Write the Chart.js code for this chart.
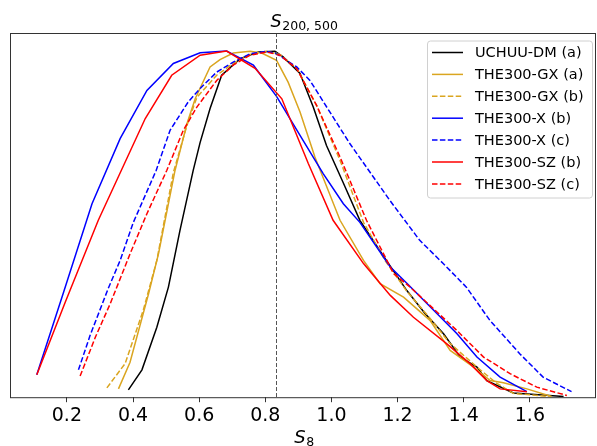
<!DOCTYPE html>
<html>
<head>
<meta charset="utf-8">
<script src="https://cdn.jsdelivr.net/npm/chart.js@4.4.1/dist/chart.umd.min.js"></script>
<style>
    html, body { margin: 0; padding: 0; background: #fff; }
    canvas { display: block; }
</style>
</head>
<body>
<canvas id="S8Chart" width="597" height="446"></canvas>
<script>
// x axis ticks and the S_200,500 marker
const xTicks = [0.2, 0.4, 0.6, 0.8, 1.0, 1.2, 1.4, 1.6];
const s200500 = 0.831;

// UCHUU-DM (a)
const uchuuS = [0.386, 0.427, 0.472, 0.507, 0.542, 0.582, 0.603, 0.633, 0.668, 0.724, 0.779, 0.829, 0.854, 0.905, 0.945, 0.985, 1.035, 1.086, 1.162, 1.228, 1.283, 1.339, 1.389, 1.440, 1.470, 1.550, 1.702];
const uchuuP = [0.021, 0.079, 0.202, 0.318, 0.482, 0.655, 0.736, 0.834, 0.930, 0.978, 0.997, 0.999, 0.983, 0.935, 0.838, 0.727, 0.621, 0.511, 0.401, 0.308, 0.242, 0.183, 0.116, 0.087, 0.048, 0.012, 0.002];

// THE300-GX (a)
const gxaS = [0.356, 0.391, 0.447, 0.477, 0.527, 0.563, 0.588, 0.633, 0.663, 0.703, 0.754, 0.789, 0.834, 0.869, 0.905, 0.950, 1.026, 1.097, 1.147, 1.218, 1.298, 1.359, 1.430, 1.480, 1.520, 1.591, 1.666];
const gxaP = [0.024, 0.101, 0.299, 0.414, 0.655, 0.790, 0.862, 0.954, 0.975, 0.994, 0.999, 0.994, 0.973, 0.910, 0.824, 0.694, 0.511, 0.395, 0.328, 0.289, 0.222, 0.135, 0.087, 0.048, 0.042, 0.024, 0.002];

// THE300-GX (b)
const gxbS = [0.321, 0.376, 0.431, 0.472, 0.522, 0.563, 0.593, 0.653, 0.703, 0.754, 0.804, 0.844, 0.895, 0.955, 1.026, 1.097, 1.162, 1.228, 1.298, 1.358, 1.440, 1.500, 1.550, 1.660];
const gxbP = [0.027, 0.097, 0.251, 0.395, 0.649, 0.785, 0.866, 0.930, 0.964, 0.990, 0.999, 0.990, 0.950, 0.843, 0.684, 0.505, 0.395, 0.306, 0.228, 0.156, 0.087, 0.040, 0.011, 0.002];

// THE300-X (b)
const xbS = [0.109, 0.190, 0.276, 0.361, 0.442, 0.522, 0.603, 0.683, 0.764, 0.834, 0.905, 0.975, 1.036, 1.086, 1.178, 1.228, 1.379, 1.440, 1.510, 1.591];
const xbP = [0.065, 0.303, 0.559, 0.747, 0.886, 0.964, 0.995, 1.000, 0.959, 0.869, 0.756, 0.646, 0.559, 0.505, 0.376, 0.329, 0.184, 0.116, 0.058, 0.016];

// THE300-X (c)
const xcS = [0.235, 0.270, 0.325, 0.361, 0.401, 0.470, 0.512, 0.567, 0.603, 0.653, 0.703, 0.754, 0.804, 0.834, 0.895, 0.935, 0.995, 1.056, 1.177, 1.267, 1.338, 1.408, 1.479, 1.570, 1.640, 1.726];
const xcP = [0.079, 0.178, 0.314, 0.395, 0.505, 0.655, 0.771, 0.853, 0.892, 0.939, 0.968, 0.992, 0.999, 0.992, 0.954, 0.915, 0.824, 0.732, 0.568, 0.453, 0.386, 0.318, 0.222, 0.125, 0.058, 0.016];

// THE300-SZ (b)
const szbS = [0.109, 0.195, 0.295, 0.437, 0.517, 0.603, 0.683, 0.769, 0.850, 0.930, 1.005, 1.097, 1.178, 1.248, 1.349, 1.419, 1.470, 1.510, 1.591];
const szbP = [0.065, 0.274, 0.511, 0.805, 0.930, 0.988, 1.000, 0.950, 0.862, 0.675, 0.511, 0.386, 0.294, 0.231, 0.154, 0.097, 0.048, 0.024, 0.016];

// THE300-SZ (c)
const szcS = [0.240, 0.286, 0.331, 0.391, 0.442, 0.502, 0.552, 0.593, 0.653, 0.703, 0.754, 0.804, 0.844, 0.895, 0.955, 1.026, 1.106, 1.188, 1.238, 1.379, 1.460, 1.540, 1.621, 1.712];
const szcP = [0.061, 0.173, 0.270, 0.414, 0.530, 0.655, 0.771, 0.838, 0.915, 0.959, 0.988, 0.997, 0.988, 0.949, 0.843, 0.694, 0.511, 0.357, 0.318, 0.193, 0.116, 0.068, 0.029, 0.005];

function pts(xs, ys) {
    return xs.map((x, i) => ({ x: x, y: ys[i] }));
}

function line(label, xs, ys, color, dashed, i) {
    return {
        label: label,
        data: pts(xs, ys),
        borderColor: color,
        borderWidth: 1.5,
        borderDash: dashed ? [5.5, 2.4] : [],
        fill: false,
        pointRadius: 0,
        tension: 0,
        order: 10 - i, // later series on top, like matplotlib
    };
}

const FONT = "'DejaVu Sans', sans-serif";

// subscript text helper (S_xxx)
function mathLabel(ctx, cx, base, main, sub, size, subSize, drop) {
    ctx.save();
    ctx.fillStyle = "#000";
    ctx.textBaseline = "alphabetic";
    ctx.font = "oblique " + size + "px " + FONT;
    const w1 = ctx.measureText(main).width;
    ctx.font = subSize + "px " + FONT;
    const w2 = ctx.measureText(sub).width;
    const x0 = cx - (w1 + w2) / 2;
    ctx.font = "oblique " + size + "px " + FONT;
    ctx.textAlign = "left";
    ctx.fillText(main, x0, base);
    ctx.font = subSize + "px " + FONT;
    ctx.fillText(sub, x0 + w1 + 0.5, base + drop);
    ctx.restore();
}

const decor = {
    id: "decor",
    beforeDraw(chart) {
        const ctx = chart.ctx;
        ctx.save();
        ctx.fillStyle = "#fff";
        ctx.fillRect(0, 0, chart.width, chart.height);
        ctx.restore();
    },
    afterDatasetsDraw(chart) {
        const ctx = chart.ctx;
        const a = chart.chartArea;
        const xs = chart.scales.x;

        // S_200,500 marker
        const vx = Math.round(xs.getPixelForValue(s200500)) + 0.5;
        ctx.save();
        ctx.strokeStyle = "#555";
        ctx.lineWidth = 1;
        ctx.setLineDash([4, 2]);
        ctx.beginPath();
        ctx.moveTo(vx, a.top);
        ctx.lineTo(vx, a.bottom);
        ctx.stroke();
        ctx.restore();

        // frame
        ctx.save();
        ctx.strokeStyle = "#333";
        ctx.lineWidth = 1;
        ctx.strokeRect(a.left + 0.5, a.top + 0.5, a.right - a.left - 1, a.bottom - a.top);
        ctx.restore();

        // legend
        const lx = 427, ly = 40.5, lw = 165, lh = 157, rowH = 21.9;
        ctx.save();
        ctx.fillStyle = "rgba(255,255,255,0.8)";
        ctx.strokeStyle = "#d0d0d0";
        ctx.lineWidth = 1;
        ctx.beginPath();
        ctx.roundRect(lx + 0.5, ly + 0.5, lw, lh, 3);
        ctx.fill();
        ctx.stroke();
        ctx.font = "14.5px " + FONT;
        ctx.textBaseline = "middle";
        ctx.fillStyle = "#000";
        chart.data.datasets.forEach((ds, i) => {
            const y = ly + 12 + i * rowH;
            ctx.strokeStyle = ds.borderColor;
            ctx.lineWidth = ds.borderWidth;
            ctx.setLineDash(ds.borderDash);
            ctx.beginPath();
            ctx.moveTo(432, y);
            ctx.lineTo(463, y);
            ctx.stroke();
            ctx.setLineDash([]);
            ctx.fillText(ds.label, 475, y + 1);
        });
        ctx.restore();

        // title and axis label
        mathLabel(ctx, 304, 26.5, "S", "200, 500", 17.5, 12.5, 3);
        mathLabel(ctx, 304, 443, "S", "8", 18, 12.5, 3);
    },
};

new Chart(document.getElementById("S8Chart"), {
    type: "line",
    data: {
        datasets: [
            line("UCHUU-DM (a)", uchuuS, uchuuP, "#000000", false, 0),
            line("THE300-GX (a)", gxaS, gxaP, "#DAA520", false, 1),
            line("THE300-GX (b)", gxbS, gxbP, "#DAA520", true, 2),
            line("THE300-X (b)", xbS, xbP, "#0000FF", false, 3),
            line("THE300-X (c)", xcS, xcP, "#0000FF", true, 4),
            line("THE300-SZ (b)", szbS, szbP, "#FF0000", false, 5),
            line("THE300-SZ (c)", szcS, szcP, "#FF0000", true, 6),
        ],
    },
    options: {
        responsive: false,
        animation: false,
        devicePixelRatio: 1,
        layout: {
            padding: { left: 10, right: 1, top: 33, bottom: 17 },
        },
        plugins: {
            legend: { display: false },
            tooltip: { enabled: false },
        },
        scales: {
            x: {
                type: "linear",
                min: 0.028,
                max: 1.8,
                afterBuildTicks: (scale) => {
                    scale.ticks = xTicks.map((v) => ({ value: v }));
                },
                grid: {
                    drawOnChartArea: false,
                    drawTicks: true,
                    tickLength: 5,
                    tickColor: "#333",
                },
                border: { display: false },
                ticks: {
                    color: "#000",
                    padding: 2,
                    maxRotation: 0,
                    font: { family: FONT, size: 19 },
                    callback: (v) => v.toFixed(1),
                },
            },
            y: {
                display: false,
                min: 0,
                max: 1.052,
            },
        },
    },
    plugins: [decor],
});
</script>
</body>
</html>
